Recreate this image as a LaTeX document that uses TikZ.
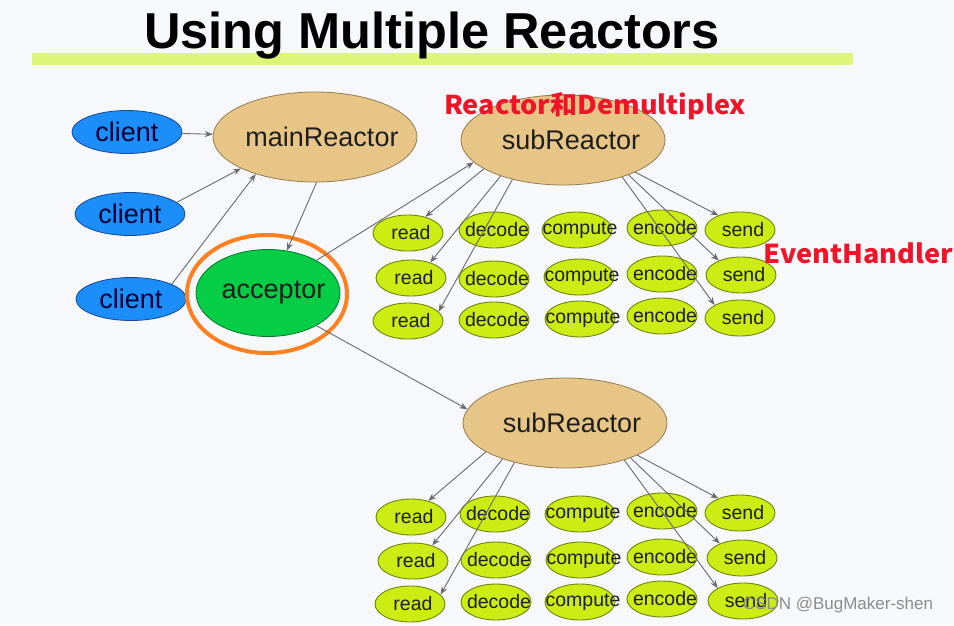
\documentclass[tikz,border=0pt]{standalone}
\usepackage{fontspec}
\setmainfont{Liberation Sans}
\newfontfamily\cjk{Noto Sans CJK SC}
\usetikzlibrary{arrows.meta,shapes.geometric}
\newcommand\ztext[2][0pt]{\makebox[0pt]{\hspace*{#1}#2}}
\definecolor{bgc}{RGB}{247,248,252}
\definecolor{barc}{RGB}{222,245,120}
\definecolor{clientc}{RGB}{28,142,250}
\definecolor{clientb}{RGB}{20,70,150}
\definecolor{tanc}{RGB}{230,197,135}
\definecolor{tanb}{RGB}{150,125,80}
\definecolor{accc}{RGB}{5,205,70}
\definecolor{accb}{RGB}{0,120,40}
\definecolor{smallc}{RGB}{205,236,20}
\definecolor{smallb}{RGB}{110,135,10}
\definecolor{orangec}{RGB}{255,128,32}
\definecolor{redc}{RGB}{240,20,40}
\definecolor{linec}{RGB}{105,105,110}
\definecolor{txtc}{RGB}{30,30,30}
\tikzset{
  client/.style={ellipse,draw=clientb,fill=clientc,line width=0.8pt,minimum width=110pt,minimum height=43pt,inner sep=0pt,text=black!80!blue,font=\fontsize{27}{27}\selectfont},
  big/.style={ellipse,draw=tanb,fill=tanc,line width=0.8pt,minimum width=204pt,minimum height=90pt,inner sep=0pt,text=txtc,font=\fontsize{27}{27}\selectfont},
  acc/.style={ellipse,draw=accb,fill=accc,line width=0.8pt,minimum width=144pt,minimum height=87pt,inner sep=0pt,text=txtc,font=\fontsize{27}{27}\selectfont},
  sm/.style={ellipse,draw=smallb,fill=smallc,line width=0.9pt,minimum width=70pt,minimum height=36pt,inner sep=0pt,text=txtc,font=\fontsize{19.5}{19.5}\selectfont},
  conn/.style={draw=linec,line width=0.9pt,-{Stealth[length=8pt,width=6pt]}},
  redlbl/.style={text=redc,font=\cjk\bfseries\fontsize{26}{26}\selectfont,inner sep=0pt,xscale=1.04}
}
\begin{document}
\begin{tikzpicture}[x=1pt,y=-1pt]
\fill[bgc] (0,0) rectangle (954,625);
\useasboundingbox (0,0) rectangle (954,625);
% title
\fill[barc] (32,53) rectangle (853,65);
\node[font=\bfseries\fontsize{50.5}{50.5}\selectfont,inner sep=0pt] (title) at (432,36) {Using Multiple Reactors};
% left part
\node[client] (c1) at (127,132) {\ztext{client}};
\node[client] (c2) at (130,214) {\ztext{client}};
\node[client] (c3) at (131,299) {\ztext{client}};
\node[big] (main) at (315,137) {\ztext[14pt]{mainReactor}};
\draw[orangec,line width=4pt] (267,294) ellipse [x radius=80pt,y radius=59pt];
\node[acc] (acc) at (268,293) {\ztext[11pt]{acceptor}};
\node[big] (sub1) at (563,140) {\ztext[16pt]{subReactor}};
\node[big] (sub2) at (565,423) {\ztext[14pt]{subReactor}};
% top grid
\node[sm] (ra1) at (408,233) {\ztext[6pt]{read}};
\node[sm] (da1) at (494,230) {\ztext[6pt]{decode}};
\node[sm] (pa1) at (577,230) {\ztext[6pt]{compute}};
\node[sm] (ea1) at (662,228) {\ztext[6pt]{encode}};
\node[sm] (sa1) at (740,230) {\ztext[6pt]{send}};
\node[sm] (ra2) at (411,278) {\ztext[6pt]{read}};
\node[sm] (da2) at (494,279) {\ztext[6pt]{decode}};
\node[sm] (pa2) at (579,277) {\ztext[6pt]{compute}};
\node[sm] (ea2) at (662,274) {\ztext[6pt]{encode}};
\node[sm] (sa2) at (741,275) {\ztext[6pt]{send}};
\node[sm] (ra3) at (408,321) {\ztext[6pt]{read}};
\node[sm] (da3) at (494,320) {\ztext[6pt]{decode}};
\node[sm] (pa3) at (580,319) {\ztext[6pt]{compute}};
\node[sm] (ea3) at (662,316) {\ztext[6pt]{encode}};
\node[sm] (sa3) at (740,318) {\ztext[6pt]{send}};
% bottom grid
\node[sm] (rb1) at (411,517) {\ztext[6pt]{read}};
\node[sm] (db1) at (495,514) {\ztext[6pt]{decode}};
\node[sm] (pb1) at (580,514) {\ztext[6pt]{compute}};
\node[sm] (eb1) at (662,511) {\ztext[6pt]{encode}};
\node[sm] (sb1) at (740,513) {\ztext[6pt]{send}};
\node[sm] (rb2) at (413,561) {\ztext[6pt]{read}};
\node[sm] (db2) at (496,560) {\ztext[6pt]{decode}};
\node[sm] (pb2) at (581,560) {\ztext[6pt]{compute}};
\node[sm] (eb2) at (662,557) {\ztext[6pt]{encode}};
\node[sm] (sb2) at (742,558) {\ztext[6pt]{send}};
\node[sm] (rb3) at (410,604) {\ztext[6pt]{read}};
\node[sm] (db3) at (496,602) {\ztext[6pt]{decode}};
\node[sm] (pb3) at (580,602) {\ztext[6pt]{compute}};
\node[sm] (eb3) at (662,599) {\ztext[6pt]{encode}};
\node[sm] (sb3) at (743,601) {\ztext[6pt]{send}};
% connectors
\draw[conn] (c1) -- (main);
\draw[conn] (c2.14) -- (main.203);
\draw[conn] (c3.20) -- (main.212);
\draw[conn] (main.272) -- (acc.66);
\draw[conn] (acc.34) -- (sub1.194);
\draw[conn] (acc.326) -- (sub2.172);
\foreach \s/\r in {sub1/a,sub2/b}{
  \draw[conn] (\s.200) -- (r\r1.43);
  \draw[conn] (\s.210) -- (r\r2.39);
  \draw[conn] (\s.218) -- (r\r3.17);
  \draw[conn] (\s.336) -- (s\r1.146);
  \draw[conn] (\s.332) -- (s\r2.147);
  \draw[conn] (\s.328) -- (s\r3.153);
}
% labels
\node[redlbl] (lbl1) at (595,106) {Reactor和Demultiplex};
\node[redlbl] (lbl2) at (858,253) {EventHandler};
\node[text=black!45,font=\fontsize{17}{17}\selectfont,inner sep=0pt] (wm) at (838,605) {CSDN @BugMaker-shen};
\end{tikzpicture}
\end{document}
